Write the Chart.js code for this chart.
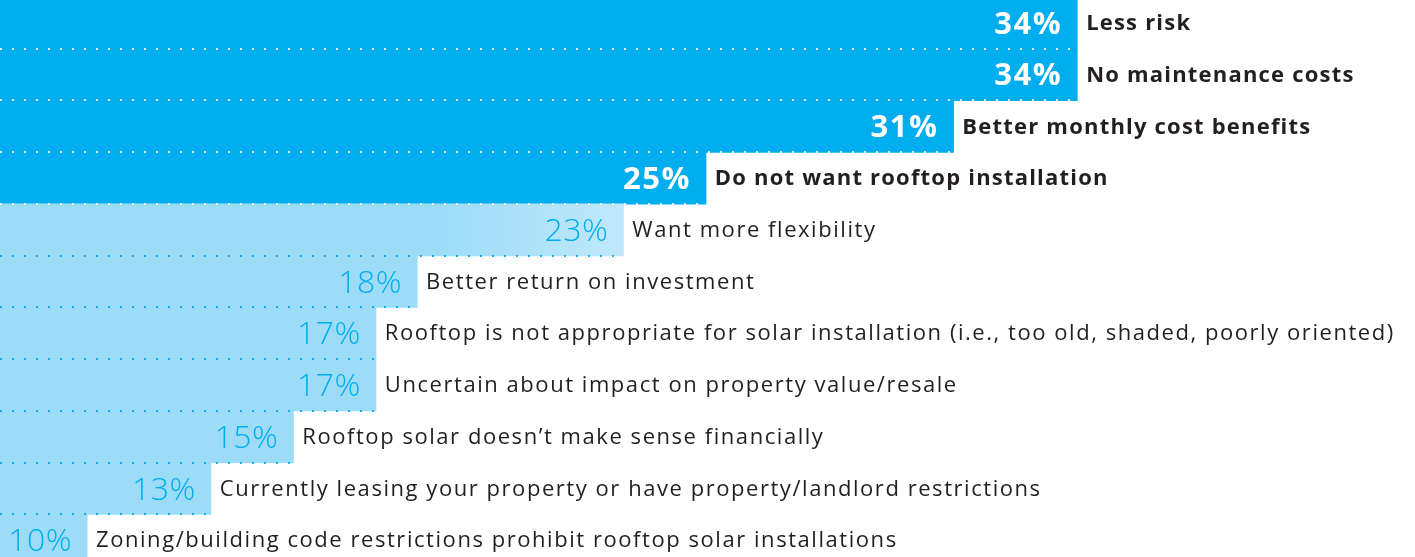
<!DOCTYPE html>
<html>
<head>
<meta charset="utf-8">
<script src="https://cdn.jsdelivr.net/npm/chart.js@4.4.1/dist/chart.umd.min.js"></script>
<style>
  html, body { margin: 0; padding: 0; background: #fff; overflow: hidden; }
  #wrap { position: absolute; left: 0; top: -3px; width: 1415px; height: 569px; }
</style>
</head>
<body>
<div id="wrap"><canvas id="chart"></canvas></div>
<script>
// answers, top to bottom
labels = [
    "Less risk",
    "No maintenance costs",
    "Better monthly cost benefits",
    "Do not want rooftop installation",
    "Want more flexibility",
    "Better return on investment",
    "Rooftop is not appropriate for solar installation (i.e., too old, shaded, poorly oriented)",
    "Uncertain about impact on property value/resale",
    "Rooftop solar doesn\u2019t make sense financially",
    "Currently leasing your property or have property/landlord restrictions",
    "Zoning/building code restrictions prohibit rooftop solar installations"
];
values = [34, 34, 31, 25, 23, 18, 17, 17, 15, 13, 10];
// top answers are drawn dark + bold
topAnswer = [true, true, true, true, false, false, false, false, false, false, false];

DARK = '#00aeef';
LIGHT = '#9ddcf7';
LIGHTER = '#c0e8fb';
INK = '#231f20';
FONT = '"Open Sans", "DejaVu Sans", sans-serif';

function lightFill(context) {
    const chart = context.chart;
    const x = chart.scales.x;
    if (!chart.chartArea) return LIGHT;
    const g = chart.ctx.createLinearGradient(x.getPixelForValue(15), 0, x.getPixelForValue(23), 0);
    g.addColorStop(0, LIGHT);
    g.addColorStop(0.45, LIGHT);
    g.addColorStop(1, LIGHTER);
    return g;
}

const barText = {
    id: 'barText',
    afterDatasetsDraw(chart) {
        const ctx = chart.ctx;
        const bars = chart.getDatasetMeta(0).data;
        const left = chart.chartArea.left;
        ctx.save();

        // dotted rules along the bottom edge of each bar
        bars.forEach((bar, i) => {
            if (i == bars.length - 1) return;
            const y = Math.round(bar.y + bar.height / 2);
            ctx.fillStyle = topAnswer[i] ? 'rgba(255,255,255,0.85)' : 'rgba(0,174,239,0.9)';
            for (let x = left; x < bar.x - 2; x += 12) {
                ctx.fillRect(x, y - 1, 2, 2);
            }
        });

        ctx.textBaseline = 'middle';
        bars.forEach((bar, i) => {
            const y = bar.y + 1;
            // value inside the bar
            ctx.textAlign = 'right';
            if (topAnswer[i]) {
                ctx.fillStyle = '#ffffff';
                ctx.font = 'bold 31px ' + FONT;
                ctx.letterSpacing = '1.5px';
            } else {
                ctx.fillStyle = DARK;
                ctx.font = '300 32px ' + FONT;
                ctx.letterSpacing = '0.5px';
            }
            ctx.fillText(values[i] + '%', bar.x - 15, y + 1);

            // answer text after the bar
            ctx.textAlign = 'left';
            ctx.fillStyle = INK;
            if (topAnswer[i]) {
                ctx.font = 'bold 22px ' + FONT;
                ctx.letterSpacing = '1.2px';
            } else {
                ctx.font = '22px ' + FONT;
                ctx.letterSpacing = '1.55px';
            }
            ctx.fillText(labels[i], bar.x + 9, y);
        });
        ctx.restore();
    }
};

new Chart(document.getElementById('chart'), {
    type: 'bar',
    data: {
        labels: labels,
        datasets: [{
            data: values,
            backgroundColor: (c) => topAnswer[c.dataIndex] ? DARK : lightFill(c),
            borderWidth: 0,
            barPercentage: 1,
            categoryPercentage: 1,
            inflateAmount: 0.5
        }]
    },
    options: {
        indexAxis: 'y',
        responsive: true,
        maintainAspectRatio: false,
        animation: false,
        layout: { padding: 0 },
        scales: {
            x: { display: false, min: 7.89, max: 42.19 },
            y: { display: false }
        },
        plugins: {
            legend: { display: false },
            tooltip: { enabled: false }
        }
    },
    plugins: [barText]
});
</script>
</body>
</html>
